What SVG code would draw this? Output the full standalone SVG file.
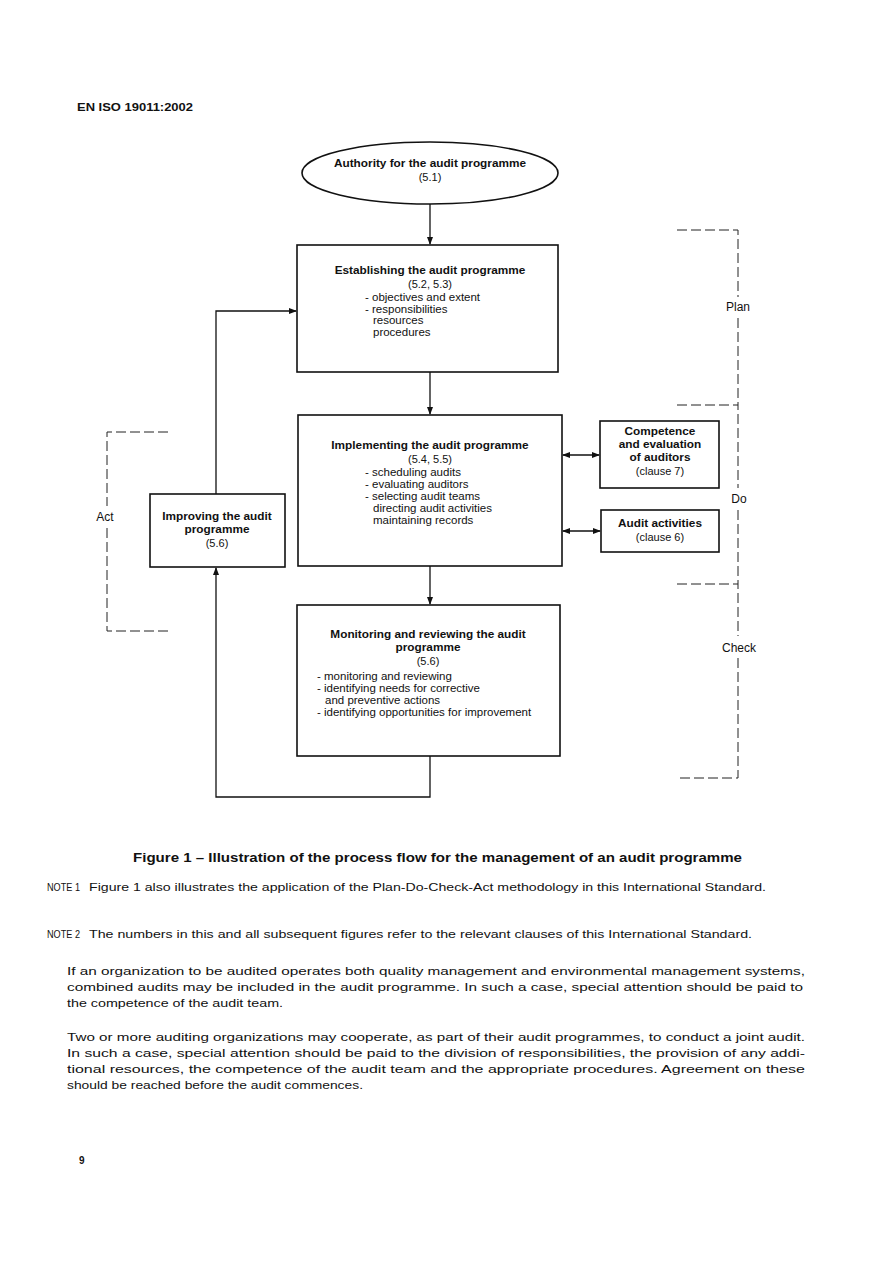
<svg xmlns="http://www.w3.org/2000/svg" width="893" height="1262" viewBox="0 0 893 1262">
<style>
text{font-family:"Liberation Sans",Arial,sans-serif;fill:#111}
.t{font-size:11.8px;font-weight:bold;text-anchor:middle}
.r{font-size:11px;text-anchor:middle}
.l{font-size:11.5px}
.lab{font-size:12px;text-anchor:middle}
.box{fill:#fff;stroke:#111;stroke-width:1.6}
.ln{fill:none;stroke:#111;stroke-width:1.3}
.ds{fill:none;stroke:#222;stroke-width:1;stroke-dasharray:10,4}
.body{font-size:11px}
.note{font-size:10.5px}
</style>
<defs>
<marker id="ah" markerWidth="8" markerHeight="8" refX="7" refY="4" orient="auto" markerUnits="userSpaceOnUse">
<path d="M0,1 L8,4 L0,7 Z" fill="#111"/>
</marker>
<marker id="as" markerWidth="8" markerHeight="8" refX="1" refY="4" orient="auto" markerUnits="userSpaceOnUse">
<path d="M8,1 L0,4 L8,7 Z" fill="#111"/>
</marker>
</defs>
<rect width="893" height="1262" fill="#fff"/>
<text x="77" y="111" style="font-size:10px;font-weight:bold" textLength="116" lengthAdjust="spacingAndGlyphs">EN ISO 19011:2002</text>

<g id="connectors">
<line class="ln" x1="430" y1="204" x2="430" y2="244" marker-end="url(#ah)"/>
<line class="ln" x1="430" y1="372" x2="430" y2="414" marker-end="url(#ah)"/>
<line class="ln" x1="430" y1="566" x2="430" y2="604" marker-end="url(#ah)"/>
<polyline class="ln" points="430,756 430,797 216,797 216,568" marker-end="url(#ah)"/>
<polyline class="ln" points="216,494 216,311 296,311" marker-end="url(#ah)"/>
<line class="ln" x1="563" y1="455" x2="599" y2="455" marker-start="url(#as)" marker-end="url(#ah)"/>
<line class="ln" x1="563" y1="531" x2="600" y2="531" marker-start="url(#as)" marker-end="url(#ah)"/>
</g>

<g id="pdca">
<polyline class="ds" points="677,230 738,230 738,297"/>
<polyline class="ds" points="738,318 738,405"/>
<polyline class="ds" points="677,405 738,405 738,488"/>
<polyline class="ds" points="738,510 738,584"/>
<polyline class="ds" points="677,584 738,584 738,636"/>
<polyline class="ds" points="738,658 738,778 677,778"/>
<text x="738" y="311" class="lab">Plan</text>
<text x="739" y="503" class="lab">Do</text>
<text x="739" y="652" class="lab">Check</text>
<polyline class="ds" points="168,432 107,432 107,506"/>
<polyline class="ds" points="107,528 107,631 168,631"/>
<text x="105" y="521" class="lab">Act</text>
</g>

<g id="authority">
<ellipse cx="430" cy="173" rx="128" ry="31" class="box"/>
<text x="430" y="167" class="t">Authority for the audit programme</text>
<text x="430" y="181" class="r">(5.1)</text>
</g>

<g id="establishing">
<rect x="297" y="245" width="261" height="127" class="box"/>
<text x="430" y="274" class="t">Establishing the audit programme</text>
<text x="430" y="288" class="r">(5.2, 5.3)</text>
<text x="365" y="301" class="l">- objectives and extent</text>
<text x="365" y="313" class="l">- responsibilities</text>
<text x="373" y="324" class="l">resources</text>
<text x="373" y="336" class="l">procedures</text>
</g>

<g id="implementing">
<rect x="298" y="415" width="264" height="151" class="box"/>
<text x="430" y="449" class="t">Implementing the audit programme</text>
<text x="430" y="463" class="r">(5.4, 5.5)</text>
<text x="365" y="476" class="l">- scheduling audits</text>
<text x="365" y="488" class="l">- evaluating auditors</text>
<text x="365" y="500" class="l">- selecting audit teams</text>
<text x="373" y="512" class="l">directing audit activities</text>
<text x="373" y="524" class="l">maintaining records</text>
</g>

<g id="competence">
<rect x="600" y="421" width="119" height="67" class="box"/>
<text x="660" y="435" class="t">Competence</text>
<text x="660" y="448" class="t">and evaluation</text>
<text x="660" y="461" class="t">of auditors</text>
<text x="660" y="475" class="r">(clause 7)</text>
</g>

<g id="audit-activities">
<rect x="601" y="510" width="118" height="42" class="box"/>
<text x="660" y="527" class="t">Audit activities</text>
<text x="660" y="541" class="r">(clause 6)</text>
</g>

<g id="improving">
<rect x="150" y="494" width="135" height="73" class="box"/>
<text x="217" y="520" class="t">Improving the audit</text>
<text x="217" y="533" class="t">programme</text>
<text x="217" y="547" class="r">(5.6)</text>
</g>

<g id="monitoring">
<rect x="297" y="605" width="263" height="151" class="box"/>
<text x="428" y="638" class="t">Monitoring and reviewing the audit</text>
<text x="428" y="651" class="t">programme</text>
<text x="428" y="665" class="r">(5.6)</text>
<text x="317" y="680" class="l">- monitoring and reviewing</text>
<text x="317" y="692" class="l">- identifying needs for corrective</text>
<text x="325" y="704" class="l">and preventive actions</text>
<text x="317" y="716" class="l">- identifying opportunities for improvement</text>
</g>

<text x="133" y="862" style="font-size:12px;font-weight:bold" textLength="609" lengthAdjust="spacingAndGlyphs">Figure 1 – Illustration of the process flow for the management of an audit programme</text>
<text x="47" y="891" class="note" textLength="33" lengthAdjust="spacingAndGlyphs">NOTE 1</text>
<text x="89" y="891" class="note" textLength="677" lengthAdjust="spacingAndGlyphs">Figure 1 also illustrates the application of the Plan-Do-Check-Act methodology in this International Standard.</text>
<text x="47" y="938" class="note" textLength="33" lengthAdjust="spacingAndGlyphs">NOTE 2</text>
<text x="89" y="938" class="note" textLength="663" lengthAdjust="spacingAndGlyphs">The numbers in this and all subsequent figures refer to the relevant clauses of this International Standard.</text>

<text x="67" y="975" class="body" textLength="738" lengthAdjust="spacingAndGlyphs">If an organization to be audited operates both quality management and environmental management systems,</text>
<text x="67" y="991" class="body" textLength="736" lengthAdjust="spacingAndGlyphs">combined audits may be included in the audit programme. In such a case, special attention should be paid to</text>
<text x="67" y="1007" class="body" textLength="216" lengthAdjust="spacingAndGlyphs">the competence of the audit team.</text>

<text x="67" y="1041" class="body" textLength="738" lengthAdjust="spacingAndGlyphs">Two or more auditing organizations may cooperate, as part of their audit programmes, to conduct a joint audit.</text>
<text x="67" y="1057" class="body" textLength="738" lengthAdjust="spacingAndGlyphs">In such a case, special attention should be paid to the division of responsibilities, the provision of any addi-</text>
<text x="67" y="1073" class="body" textLength="738" lengthAdjust="spacingAndGlyphs">tional resources, the competence of the audit team and the appropriate procedures. Agreement on these</text>
<text x="67" y="1089" class="body" textLength="296" lengthAdjust="spacingAndGlyphs">should be reached before the audit commences.</text>

<text x="79" y="1164" style="font-size:10px;font-weight:bold">9</text>
</svg>
